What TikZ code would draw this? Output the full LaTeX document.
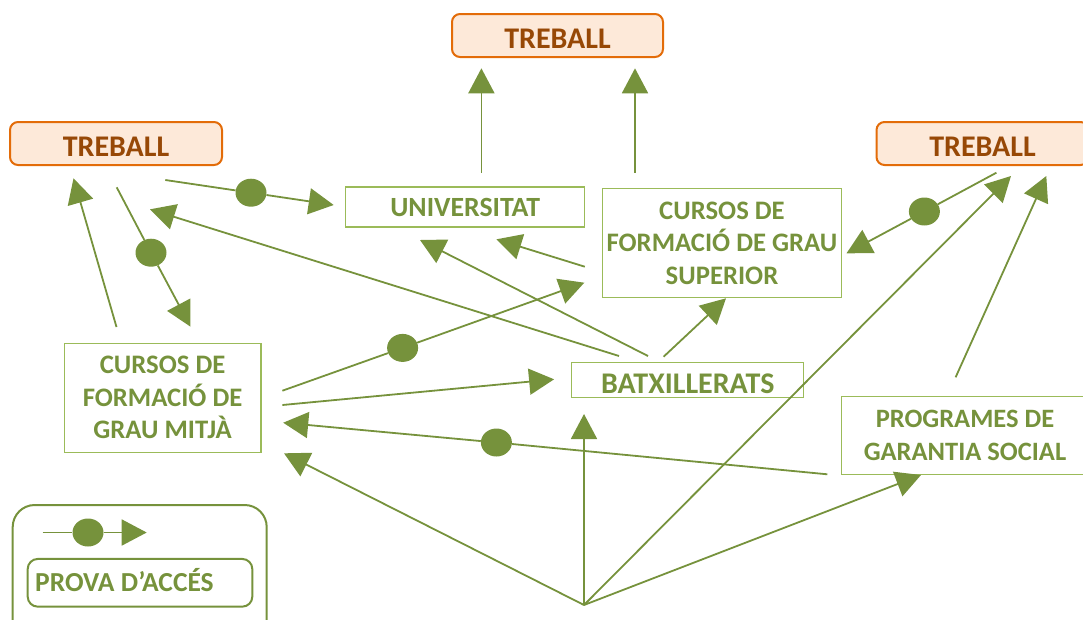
\documentclass[tikz,border=0pt]{standalone}
\usepackage{fontspec}
\setmainfont{Carlito}
\usetikzlibrary{arrows.meta,shapes.geometric}
\definecolor{lg}{HTML}{76923C}
\definecolor{bg}{HTML}{9BBB59}
\definecolor{orb}{HTML}{E36C09}
\definecolor{orf}{HTML}{FDE9D9}
\definecolor{ort}{HTML}{974806}
\begin{document}
\begin{tikzpicture}[x=1pt,y=-1pt,
  work/.style={draw=orb, line width=2pt, fill=orf, rounded corners=8pt, text=ort,
    font=\fontsize{30}{36}\selectfont\bfseries, inner sep=0pt, text height=25.3pt, text depth=0pt},
  gbox/.style={draw=bg, line width=1.5pt, text=lg, font=\fontsize{26.7}{32.5}\selectfont\bfseries,
    align=center, inner sep=0pt},
  arr/.style={draw=lg, line width=1.8pt, -{Triangle[length=25pt,width=26pt]}},
  pdot/.style={ellipse, fill=lg, minimum width=31pt, minimum height=28pt, inner sep=0pt},
  legbox/.style={draw=lg, line width=2pt, inner sep=0pt}]
\useasboundingbox (0,0) rectangle (1083,619);
\clip (0,0) rectangle (1083,619);

% boxes
\node[work, minimum width=211pt, minimum height=43pt] (tT) at (557.5,35.5) {TREBALL};
\node[work, minimum width=212pt, minimum height=43pt] (tL) at (116,143.5) {TREBALL};
\node[work, minimum width=212pt, minimum height=43pt] (tR) at (982.5,143.5) {TREBALL};
\node[gbox, minimum width=239pt, minimum height=40pt, font=\fontsize{27.8}{32.5}\selectfont\bfseries] (uni) at (465.2,207.2) {UNIVERSITAT};
\node[gbox, minimum width=239.3pt, minimum height=108.6pt] (gs) at (722,243) {CURSOS DE\\FORMACIÓ DE GRAU\\SUPERIOR};
\node[gbox, minimum width=196.7pt, minimum height=109pt] (gm) at (162.6,397.8) {CURSOS DE\\FORMACIÓ DE\\GRAU MITJÀ};
\node[gbox, minimum width=232pt, minimum height=35pt, font=\fontsize{30}{36}\selectfont\bfseries, text height=27.7pt, text depth=0pt] (bat) at (687.7,380) {BATXILLERATS};
\node[gbox, minimum width=247.4pt, minimum height=77.6pt, font=\fontsize{26.5}{32.5}\selectfont\bfseries] (pgs) at (965,435.5) {PROGRAMES DE\\GARANTIA SOCIAL};

% legend
\node[legbox, rounded corners=22pt, minimum width=254pt, minimum height=145pt] (leg) at (139.7,577.5) {};
\node[legbox, rounded corners=10pt, minimum width=224.6pt, minimum height=47.7pt] (legin) at (140,582.8) {};
\node[anchor=west, inner sep=0pt, text=lg, font=\fontsize{27.5}{33}\selectfont\bfseries, text height=17.7pt, text depth=0pt] (legtxt) at (35,582.5) {PROVA D’ACCÉS};

% dots
\node[pdot] (d1) at (251,192.7) {};
\node[pdot] (d2) at (151,252.7) {};
\node[pdot] (d3) at (402.6,347.9) {};
\node[pdot] (d4) at (496.4,442.5) {};
\node[pdot] (d5) at (924.4,211.5) {};
\node[pdot] (dl) at (88,532.5) {};

% connector end points
\coordinate (hub) at (584,605);
\coordinate (uniUp) at (481.4,172.7);  \coordinate (tTa) at (481.4,68.3);
\coordinate (gsUp) at (635,172.7);     \coordinate (tTb) at (635,68.3);
\coordinate (tLr) at (165.3,180);      \coordinate (uniL) at (333.7,205);
\coordinate (gmUp) at (116.5,327);     \coordinate (tLa) at (73.5,178.3);
\coordinate (tLd) at (116.7,187.3);    \coordinate (gmT) at (190.5,326.7);
\coordinate (batA) at (619,356);       \coordinate (tLb) at (150,209.3);
\coordinate (batB) at (648,356);       \coordinate (uniB) at (420,240);
\coordinate (gsL) at (584.8,266.7);    \coordinate (uniC) at (496.4,239.3);
\coordinate (gmA) at (282.4,390.7);    \coordinate (gsA) at (584.3,282.7);
\coordinate (gmB) at (282.4,405);      \coordinate (batL) at (554.1,379.3);
\coordinate (pgsL) at (827.4,474.3);   \coordinate (gmC) at (283.2,422.7);
\coordinate (gmD) at (284,453.3);
\coordinate (batD) at (584,414);
\coordinate (pgsB) at (921,475);
\coordinate (tRa) at (1011,176);
\coordinate (pgsU) at (955.6,377.3);   \coordinate (tRb) at (1046.3,176);
\coordinate (tRl) at (996.4,172.7);    \coordinate (gsR) at (846.5,253.3);
\coordinate (batC) at (663.6,356.7);   \coordinate (gsB) at (726,298.3);
\coordinate (legs) at (42.7,532.5);    \coordinate (lege) at (146.7,532.5);

% connectors
\draw[arr] (uniUp) -- (tTa);
\draw[arr] (gsUp) -- (tTb);
\draw[arr] (tLr) -- (d1) -- (uniL);
\draw[arr] (gmUp) -- (tLa);
\draw[arr] (tLd) -- (d2) -- (gmT);
\draw[arr] (batA) -- (tLb);
\draw[arr] (batB) -- (uniB);
\draw[arr] (gsL) -- (uniC);
\draw[arr] (gmA) -- (d3) -- (gsA);
\draw[arr] (gmB) -- (batL);
\draw[arr] (pgsL) -- (d4) -- (gmC);
\draw[arr] (hub) -- (gmD);
\draw[arr] (hub) -- (batD);
\draw[arr] (hub) -- (pgsB);
\draw[arr] (hub) -- (tRa);
\draw[arr] (pgsU) -- (tRb);
\draw[arr] (tRl) -- (d5) -- (gsR);
\draw[arr] (batC) -- (gsB);
\draw[arr] (legs) -- (dl) -- (lege);
\end{tikzpicture}
\end{document}
